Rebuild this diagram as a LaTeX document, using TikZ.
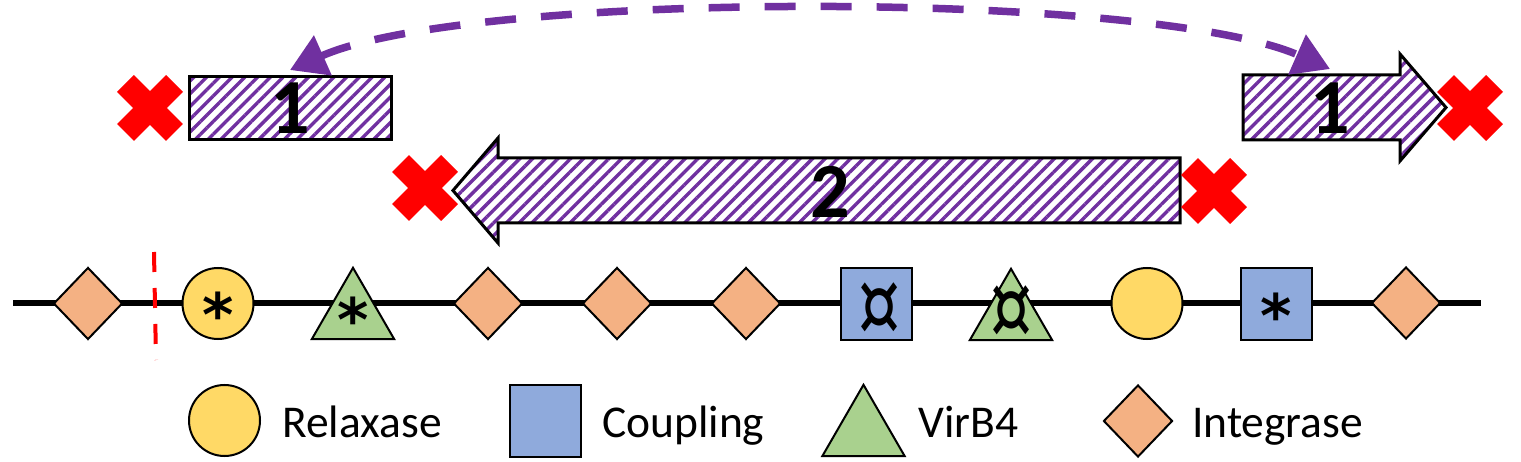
\documentclass[tikz,border=0pt]{standalone}
\usepackage{fontspec}
\usepackage{graphicx}
\setmainfont{Carlito}
\newfontfamily\symfont{DejaVu Sans}
\usetikzlibrary{shapes.geometric,arrows.meta,patterns.meta}
\definecolor{relax}{HTML}{FFD966}
\definecolor{coup}{HTML}{8FAADC}
\definecolor{virb}{HTML}{A9D18E}
\definecolor{integ}{HTML}{F4B183}
\definecolor{ppl}{HTML}{7030A0}
\newcommand{\tallcur}{\mdseries\scalebox{1.1}[1.5]{¤}}
\tikzset{
  gene/.style={draw=black, line width=2pt, inner sep=0pt},
  relaxase/.style={gene, circle, fill=relax, minimum size=71pt},
  coupling/.style={gene, rectangle, fill=coup, minimum width=71pt, minimum height=72pt},
  virbfour/.style={gene, regular polygon, regular polygon sides=3, fill=virb, minimum size=95pt},
  integrase/.style={gene, diamond, fill=integ, minimum width=69pt, minimum height=72pt},
  sym/.style={font=\symfont\bfseries\fontsize{60}{60}\selectfont, inner sep=0pt},
  legtext/.style={font=\fontsize{45.5}{50}\selectfont, anchor=base west, inner sep=0pt},
  num/.style={font=\fontsize{78}{78}\selectfont\bfseries, inner sep=0pt},
  mobile/.style={draw=black, line width=3pt, line join=miter, pattern={Lines[angle=45,distance=9pt,line width=3.4pt]}, pattern color=ppl},
  crossarm/.style={red, line width=24pt},
  backbone/.style={black, line width=6pt},
  cutline/.style={red, line width=4pt, dash pattern=on 20pt off 16pt},
  hop/.style={ppl, line width=7.5pt, dash pattern=on 31pt off 25pt, {Triangle[length=36pt,width=42pt]}-{Triangle[length=36pt,width=42pt]}}
}
\begin{document}
\begin{tikzpicture}[x=1pt,y=-1pt]
\useasboundingbox (0,0) rectangle (1521,462);
% backbone
\coordinate (bbL) at (13,303.5);
\coordinate (bbR) at (1481,303.5);
\draw[backbone] (bbL) -- (bbR);
% cut
\coordinate (cutT) at (154,252);
\coordinate (cutB) at (156,360);
\draw[cutline] (cutT) -- (cutB);
% genes
\node[integrase] (g1) at (88,303.5) {};
\node[relaxase] (g2) at (218,303.5) {};
\node[sym] (s2) at (218,314.5) {*};
\node[virbfour] (g3) at (353,315.3) {};
\node[sym] (s3) at (353,319.5) {*};
\node[integrase] (g4) at (488,303.5) {};
\node[integrase] (g5) at (617,303.5) {};
\node[integrase] (g6) at (746,303.5) {};
\node[coupling] (g7) at (876,304) {};
\node[sym] (s7) at (879,309.5) {\tallcur};
\node[virbfour] (g8) at (1011,316.3) {};
\node[sym] (s8) at (1011,312.5) {\tallcur};
\node[relaxase] (g9) at (1147,303.5) {};
\node[coupling] (g10) at (1276,304) {};
\node[sym] (s10) at (1276,315.5) {*};
\node[integrase] (g11) at (1406,303) {};
% mobile elements
\draw[mobile] (189,77) rectangle (391,140);
\node[num] (n1a) at (290,108.5) {1};
\draw[mobile] (1243,75) -- (1400,75) -- (1400,54) -- (1446,107.5) -- (1400,161) -- (1400,140) -- (1243,140) -- cycle;
\node[num] (n1b) at (1330,108) {1};
\draw[mobile] (1180,158) -- (498,158) -- (498,138) -- (453,190.5) -- (498,243) -- (498,223) -- (1180,223) -- cycle;
\node[num] (n2) at (830,192) {2};
% red crosses
\coordinate (xa) at (150,108);
\coordinate (xb) at (1470,108);
\coordinate (xc) at (425,188);
\coordinate (xd) at (1214,191);
\foreach \c in {xa,xb,xc,xd}{
  \draw[crossarm] (\c) +(-24.5,-24.5) -- +(24.5,24.5);
  \draw[crossarm] (\c) +(-24.5,24.5) -- +(24.5,-24.5);
}
% hop arc
\coordinate (arcL) at (290,70);
\coordinate (arcR) at (1330,69);
\draw[hop] (arcL) .. controls (470,-10) and (1150,-10) .. (arcR);
% legend
\node[relaxase] (lr) at (224.5,420.5) {};
\node[legtext] (lrt) at (282,437) {Relaxase};
\node[coupling] (lc) at (545.5,420.5) {};
\node[legtext] (lct) at (602,437) {Coupling};
\node[virbfour] (lv) at (863.5,432.3) {};
\node[legtext] (lvt) at (918,437) {VirB4};
\node[integrase] (li) at (1138,421) {};
\node[legtext] (lit) at (1192,437) {Integrase};
\end{tikzpicture}
\end{document}
